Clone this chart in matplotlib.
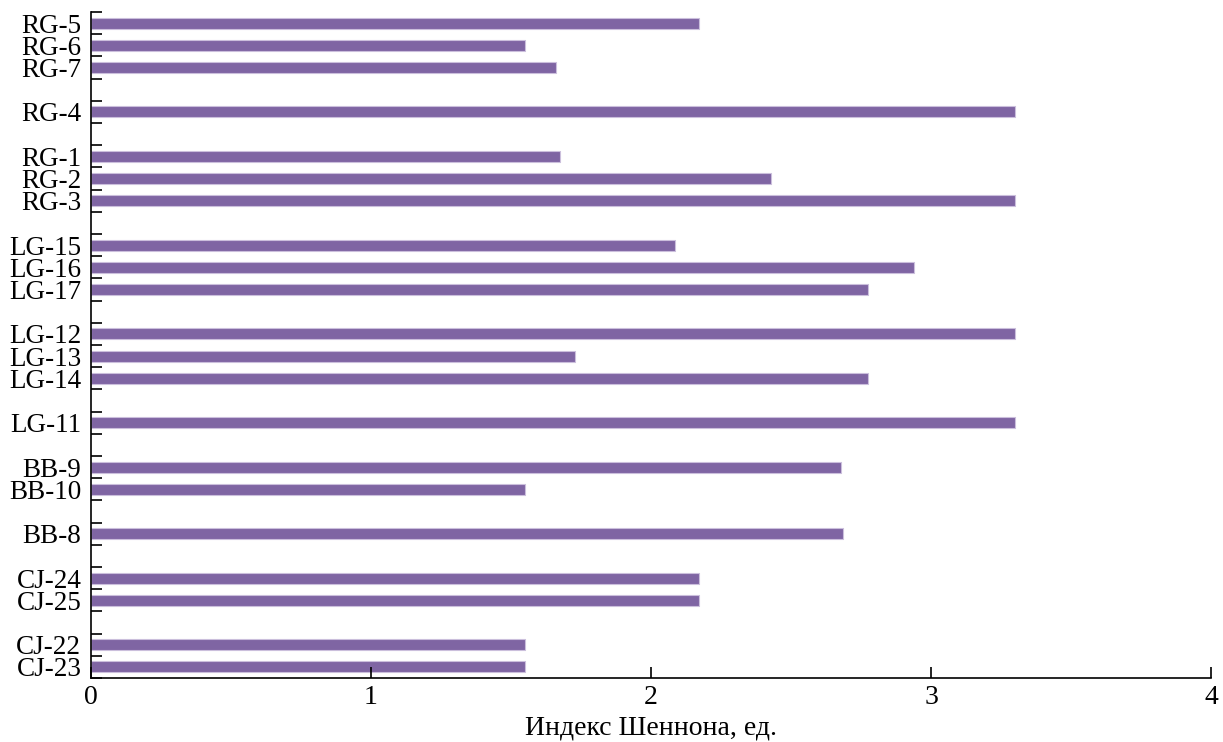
import numpy as np
import matplotlib
matplotlib.use('Agg')
import matplotlib.pyplot as plt

# site groups, top to bottom
groups = [
    ['RG-5', 'RG-6', 'RG-7'],
    ['RG-4'],
    ['RG-1', 'RG-2', 'RG-3'],
    ['LG-15', 'LG-16', 'LG-17'],
    ['LG-12', 'LG-13', 'LG-14'],
    ['LG-11'],
    ['BB-9', 'BB-10'],
    ['BB-8'],
    ['CJ-24', 'CJ-25'],
    ['CJ-22', 'CJ-23'],
]
shannon = [
    [2.17, 1.55, 1.66],
    [3.30],
    [1.675, 2.43, 3.30],
    [2.085, 2.94, 2.775],
    [3.30, 1.73, 2.775],
    [3.30],
    [2.68, 1.55],
    [2.685],
    [2.17, 2.17],
    [1.55, 1.55],
]
xlabel = 'Индекс Шеннона, ед.'

plt.rcParams['font.family'] = ['Liberation Serif', 'DejaVu Serif']

# lay out groups with one empty slot between them
labels, values, pos = [], [], []
slot = 0
for names, vals in zip(groups, shannon):
    for n, v in zip(names, vals):
        labels.append(n)
        values.append(v)
        pos.append(slot)
        slot += 1
    slot += 1
nslots = slot - 1

fig = plt.figure(figsize=(12.23, 7.42), dpi=100)
ax = fig.add_axes([0.0744, 0.0863, 0.9158, 0.8975])

ax.barh(pos, values, height=0.5, color='#7f65a3', edgecolor='#cbbfdc', linewidth=0.8)

ax.set_ylim(nslots - 0.5, -0.5)
ax.set_xlim(0, 4)
ax.set_yticks(pos)
ax.set_yticklabels(labels, fontsize=19.5)
ax.set_yticks(np.arange(-0.5, nslots, 1.0), minor=True)
ax.tick_params(axis='y', which='major', length=0, pad=7)
ax.tick_params(axis='y', which='minor', direction='in', length=8, width=1.2)
ax.set_xticks([0, 1, 2, 3, 4])
ax.tick_params(axis='x', direction='in', length=8, width=1.2, labelsize=20, pad=5)
ax.set_xlabel(xlabel, fontsize=20, labelpad=4)

for s in ['top', 'right']:
    ax.spines[s].set_visible(False)
for s in ['left', 'bottom']:
    ax.spines[s].set_linewidth(1.2)

plt.savefig('out.png', dpi=100)
